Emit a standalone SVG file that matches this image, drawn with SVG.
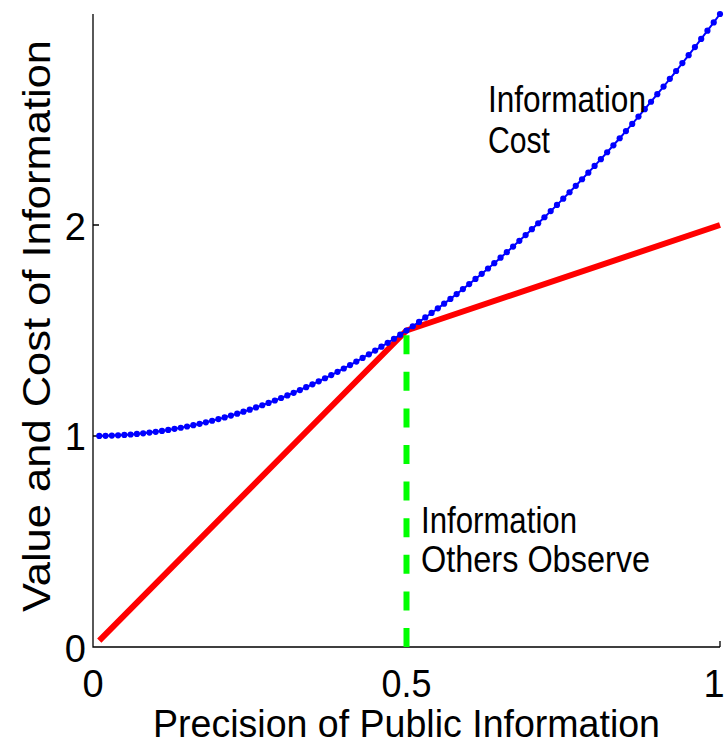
<svg xmlns="http://www.w3.org/2000/svg" width="727" height="744" viewBox="0 0 727 744">
<style>
text{font-family:"Liberation Sans",Arial,Helvetica,sans-serif;fill:#000}
.tick{font-size:38px}
.lbl{font-size:38px}
.ann{font-size:36px}
.axis{stroke:#000;stroke-width:1.3;fill:none}
</style>
<defs>
<marker id="dot" markerUnits="userSpaceOnUse" markerWidth="8" markerHeight="8" refX="4" refY="4" viewBox="0 0 8 8">
<circle cx="4" cy="4" r="3.1" fill="#0000ff"/>
</marker>
</defs>
<rect width="727" height="744" fill="#fff"/>
<g id="axes">
<path class="axis" d="M93,14 V647 H720"/>
<path class="axis" d="M93,436 H99 M93,225 H99 M720,647 V641 M406.5,647 V641"/>
</g>
<g id="ticklabels">
<text class="tick" x="86" y="661.6" text-anchor="end">0</text>
<text class="tick" x="86" y="449.6" text-anchor="end">1</text>
<text class="tick" x="86" y="239.6" text-anchor="end">2</text>
<text class="tick" x="93" y="697" text-anchor="middle">0</text>
<text class="tick" x="406.5" y="697" text-anchor="middle" textLength="50" lengthAdjust="spacingAndGlyphs">0.5</text>
<text class="tick" x="714" y="697" text-anchor="middle">1</text>
</g>
<g id="xlabel"><text class="lbl" x="153" y="737" textLength="507" lengthAdjust="spacingAndGlyphs">Precision of Public Information</text></g>
<g id="ylabel"><text class="lbl" x="0" y="0" transform="translate(50,612) rotate(-90)" textLength="572" lengthAdjust="spacingAndGlyphs">Value and Cost of Information</text></g>
<g id="connectors">
<polyline id="value" fill="none" stroke="#ff0000" stroke-width="6" stroke-linejoin="miter" points="99.27,640.67 406.5,330.5 720,225"/>
<polyline id="cost" fill="none" stroke="#0000ff" stroke-width="2" marker-start="url(#dot)" marker-mid="url(#dot)" marker-end="url(#dot)" points="99.27,435.96 105.54,435.83 111.81,435.62 118.08,435.32 124.35,434.95 130.62,434.48 136.89,433.93 143.16,433.30 149.43,432.58 155.7,431.78 161.97,430.89 168.24,429.92 174.51,428.87 180.78,427.73 187.05,426.50 193.32,425.20 199.59,423.80 205.86,422.33 212.13,420.77 218.4,419.12 224.67,417.39 230.94,415.57 237.21,413.68 243.48,411.69 249.75,409.63 256.02,407.47 262.29,405.24 268.56,402.92 274.83,400.51 281.1,398.02 287.37,395.45 293.64,392.79 299.91,390.04 306.18,387.22 312.45,384.31 318.72,381.31 324.99,378.23 331.26,375.06 337.53,371.81 343.8,368.48 350.07,365.06 356.34,361.56 362.61,357.97 368.88,354.30 375.15,350.55 381.42,346.70 387.69,342.78 393.96,338.77 400.23,334.68 406.5,330.5 412.77,326.24 419.04,321.89 425.31,317.46 431.58,312.94 437.85,308.35 444.12,303.66 450.39,298.89 456.66,294.04 462.93,289.10 469.2,284.08 475.47,278.97 481.74,273.78 488.01,268.50 494.28,263.15 500.55,257.70 506.82,252.17 513.09,246.56 519.36,240.86 525.63,235.08 531.9,229.22 538.17,223.27 544.44,217.24 550.71,211.12 556.98,204.91 563.25,198.63 569.52,192.25 575.79,185.80 582.06,179.26 588.33,172.63 594.6,165.92 600.87,159.13 607.14,152.25 613.41,145.28 619.68,138.24 625.95,131.10 632.22,123.89 638.49,116.58 644.76,109.20 651.03,101.73 657.3,94.18 663.57,86.54 669.84,78.82 676.11,71.01 682.38,63.12 688.65,55.15 694.92,47.09 701.19,38.94 707.46,30.71 713.73,22.40 720,14"/>
<path id="others" fill="none" stroke="#00ff00" stroke-width="6" stroke-dasharray="19 17.6" d="M406.5,647 V330.5"/>
</g>
<g id="label-cost">
<text class="ann" x="488" y="112" textLength="158" lengthAdjust="spacingAndGlyphs">Information</text>
<text class="ann" x="488" y="153" textLength="62" lengthAdjust="spacingAndGlyphs">Cost</text>
</g>
<g id="label-others">
<text class="ann" x="421" y="533" textLength="156" lengthAdjust="spacingAndGlyphs">Information</text>
<text class="ann" x="421" y="572" textLength="229" lengthAdjust="spacingAndGlyphs">Others Observe</text>
</g>
</svg>
